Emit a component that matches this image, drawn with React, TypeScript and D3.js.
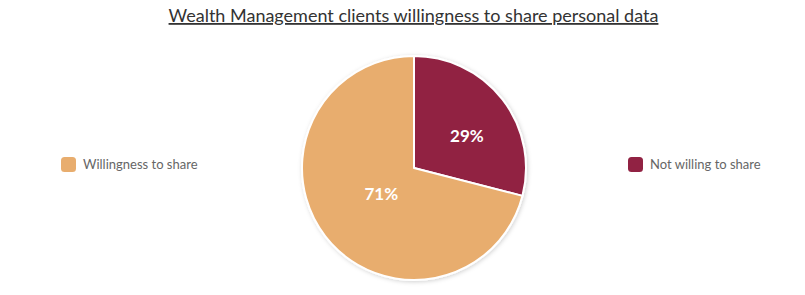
import React, { useEffect, useRef } from 'react';
import * as d3 from 'd3';

// chart data
const categories = ['Not willing to share', 'Willingness to share'];
const values = [29, 71];
const colors = ['#912243', '#E8AD6E'];
const legendOrder = ['Willingness to share', 'Not willing to share'];
const title = 'Wealth Management clients willingness to share personal data';

const W = 805;
const H = 295;

export default function App() {
  const ref = useRef<SVGSVGElement>(null);

  useEffect(() => {
    const svg = d3.select(ref.current);
    svg.selectAll('*').remove();

    const font = 'Lato, "Source Sans Pro", sans-serif';
    const cx = 414;
    const cy = 168;
    const r = 112;

    // drop shadow
    const defs = svg.append('defs');
    const f = defs.append('filter').attr('id', 'shadow').attr('x', '-20%').attr('y', '-20%').attr('width', '140%').attr('height', '140%');
    f.append('feDropShadow')
      .attr('dx', 1)
      .attr('dy', 1)
      .attr('stdDeviation', 2)
      .attr('flood-color', '#000')
      .attr('flood-opacity', 0.18);

    // title
    svg
      .append('text')
      .attr('x', 413.5)
      .attr('y', 22)
      .attr('text-anchor', 'middle')
      .style('font-family', font)
      .style('font-size', '18px')
      .style('fill', '#333')
      .style('text-decoration', 'underline')
      .text(title);

    const pie = d3
      .pie<number>()
      .sort(null)
      .value((d) => d);
    const arcs = pie(values);
    const arc = d3.arc<d3.PieArcDatum<number>>().innerRadius(0).outerRadius(r);

    const g = svg.append('g').attr('transform', `translate(${cx},${cy})`);
    g.append('g')
      .attr('filter', 'url(#shadow)')
      .selectAll('path')
      .data(arcs)
      .join('path')
      .attr('d', arc)
      .attr('fill', (d, i) => colors[i])
      .attr('stroke', '#fff')
      .attr('stroke-width', 2)
      .attr('stroke-linejoin', 'round');

    // percentage labels
    g.selectAll('text.lbl')
      .data(arcs)
      .join('text')
      .attr('class', 'lbl')
      .attr('transform', (d) => {
        const lr = d.data < 50 ? r * 0.55 : r * 0.37;
        const mid = (d.startAngle + d.endAngle) / 2 + (d.data < 50 ? 0.12 : 0);
        return `translate(${Math.sin(mid) * lr},${-Math.cos(mid) * lr})`;
      })
      .attr('text-anchor', 'middle')
      .attr('dy', '0.36em')
      .style('font-family', font)
      .style('font-size', '17px')
      .style('font-weight', 'bold')
      .style('fill', '#fff')
      .text((d) => d.data + '%');

    // legend
    const legendX = [61, 628];
    legendOrder.forEach((name, i) => {
      const idx = categories.indexOf(name);
      const lg = svg.append('g').attr('transform', `translate(${legendX[i]},157)`);
      lg.append('rect')
        .attr('width', 15)
        .attr('height', 15)
        .attr('rx', 3.5)
        .attr('fill', colors[idx]);
      lg.append('text')
        .attr('x', 22)
        .attr('y', 12)
        .style('font-family', font)
        .style('font-size', '13px')
        .style('fill', '#666')
        .text(name);
    });
  }, []);

  return <svg ref={ref} width={W} height={H} style={{ display: 'block', margin: -8 }} />;
}
